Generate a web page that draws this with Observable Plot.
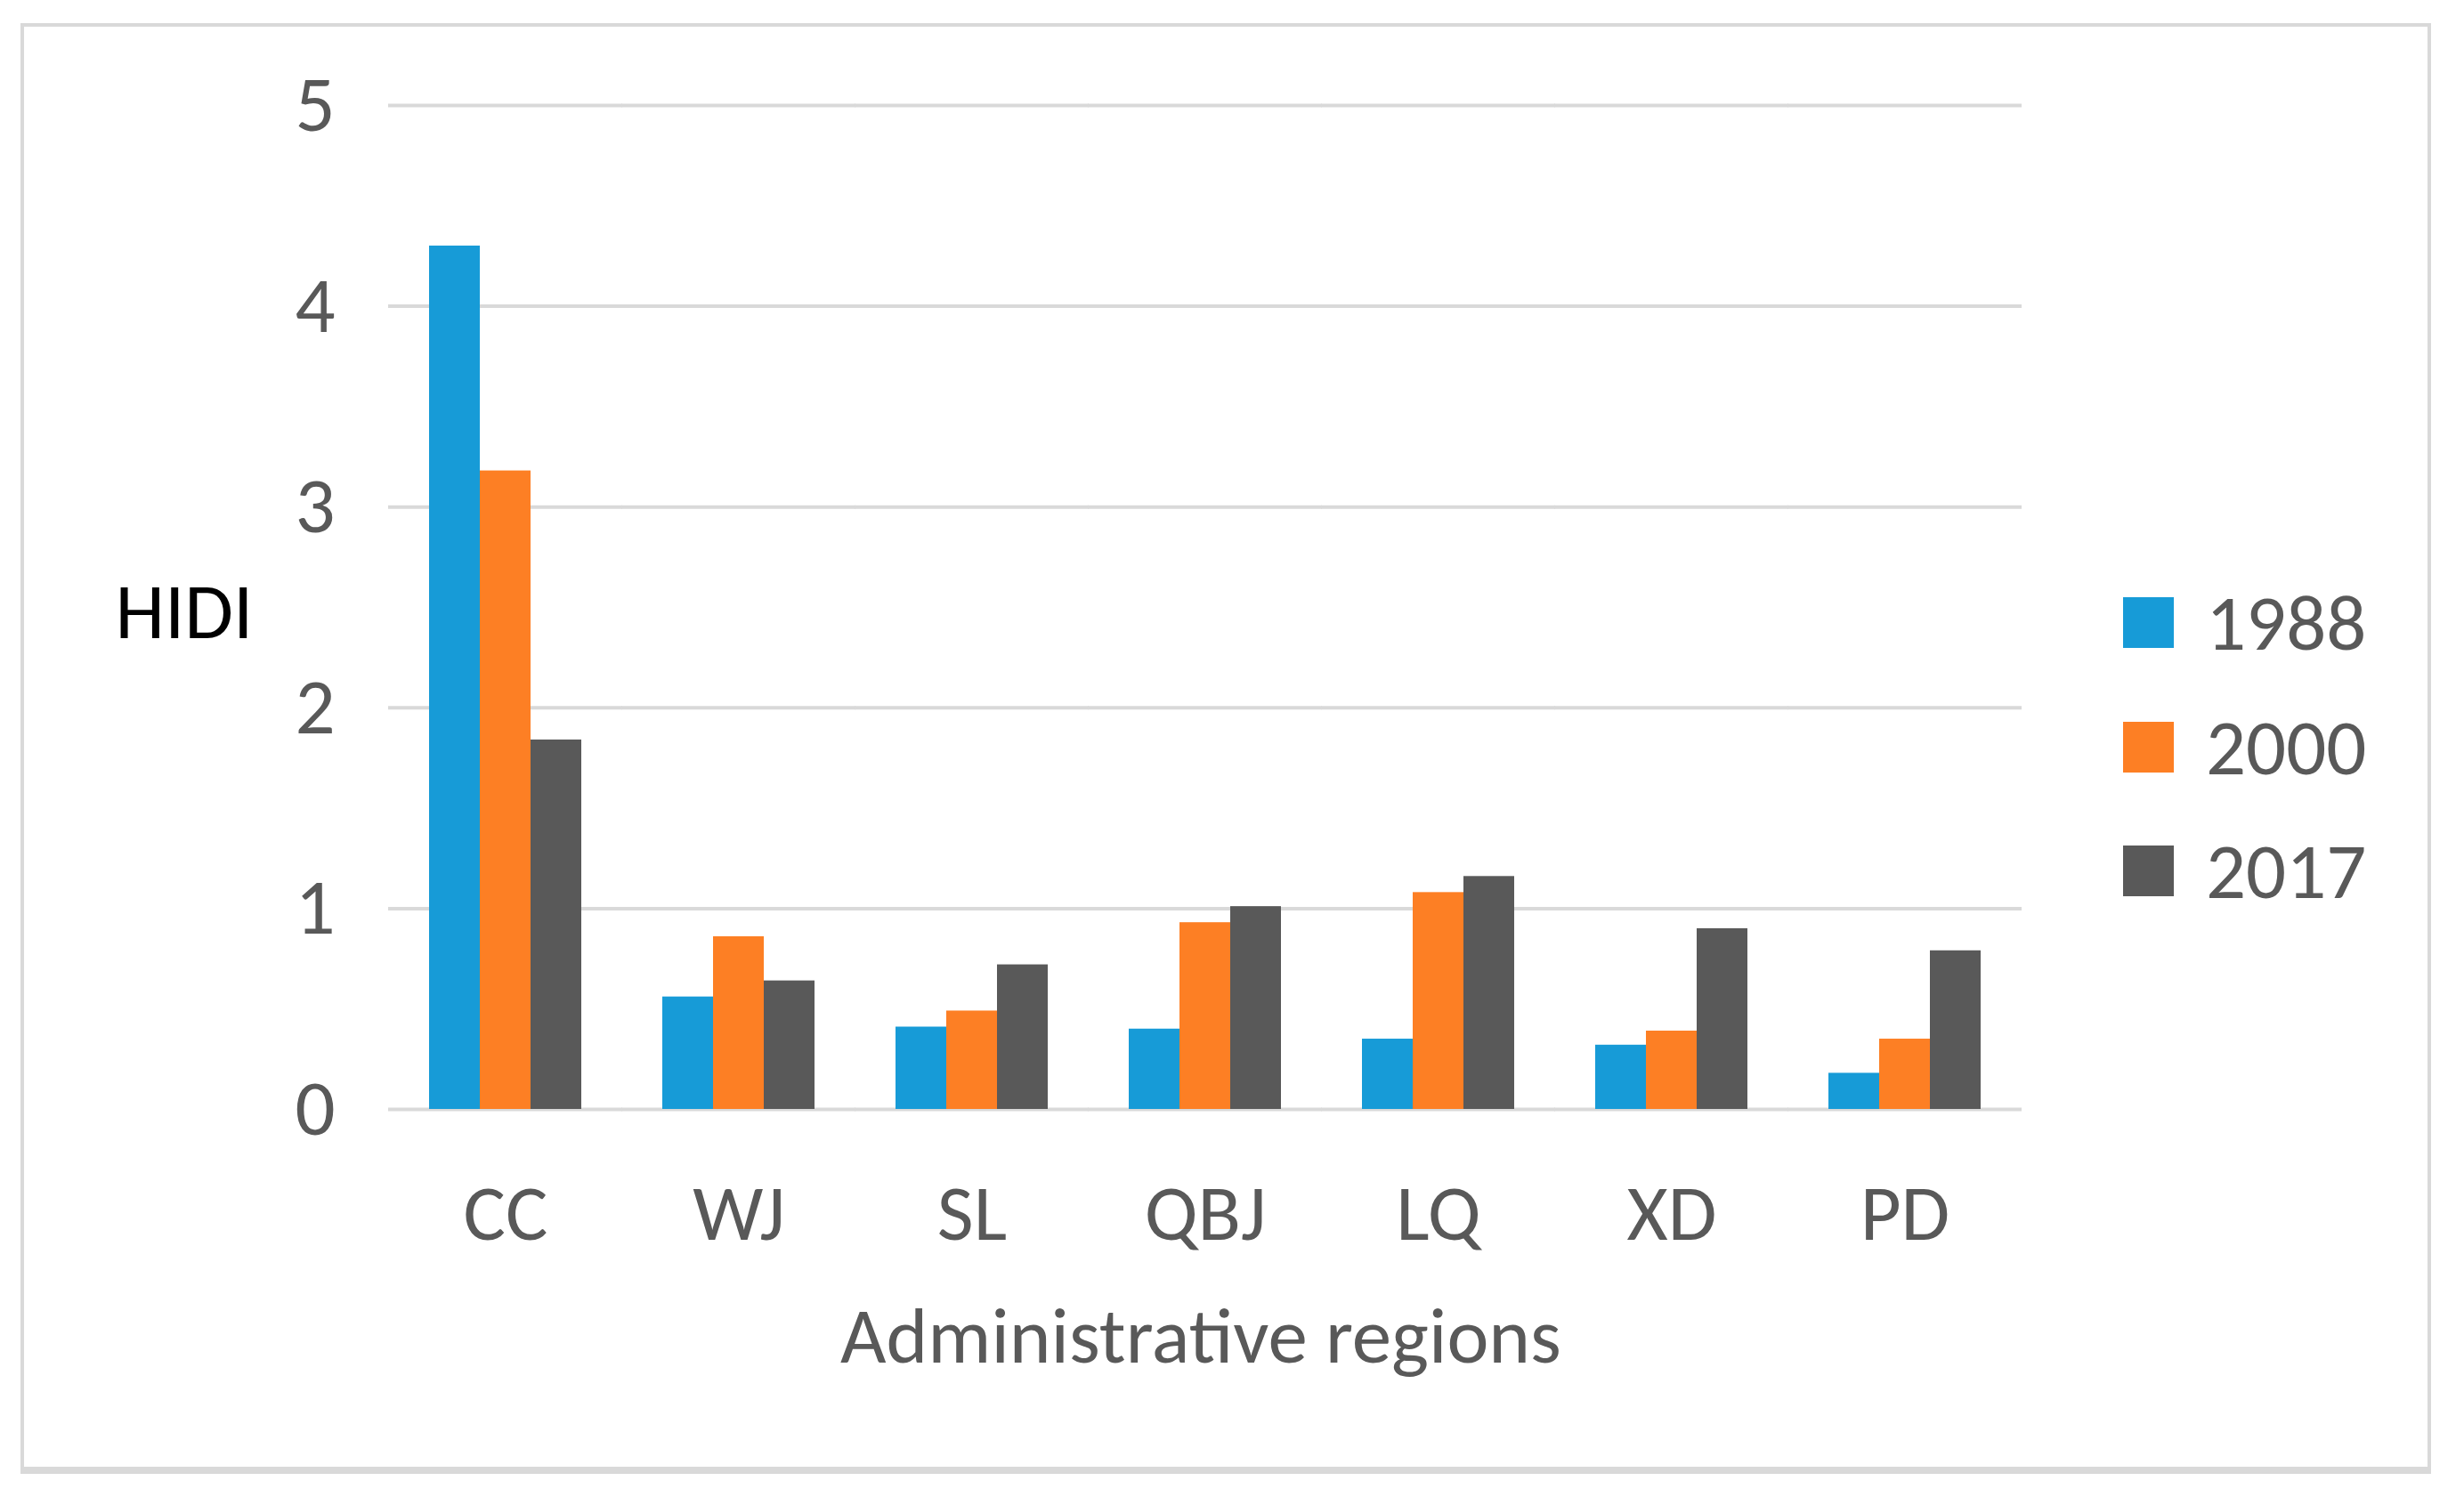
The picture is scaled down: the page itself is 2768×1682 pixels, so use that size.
<!DOCTYPE html>
<html>
<head>
<meta charset="utf-8">
<script src="https://cdn.jsdelivr.net/npm/d3@7"></script>
<script src="https://cdn.jsdelivr.net/npm/@observablehq/plot@0.6"></script>
<style>
  html, body { margin: 0; padding: 0; background: #ffffff; }
  #wrap { position: relative; width: 2768px; height: 1682px; overflow: hidden; font-family: Carlito, "Open Sans", sans-serif; }
  #frame { position: absolute; left: 23px; top: 26px; width: 2708px; height: 1630px; box-sizing: border-box; border: 4px solid #d9d9d9; border-bottom-width: 8px; }
  #chart { position: absolute; left: 0; top: 0; }
  .txt { position: absolute; font-size: 89px; color: #595959; white-space: nowrap; line-height: 1; }
  .legrow { position: absolute; left: 2385px; height: 90px; display: flex; align-items: center; }
  .sw { width: 57px; height: 57px; margin-right: 36px; }
</style>
</head>
<body>
<div id="wrap">
  <div id="frame"></div>
  <div id="chart"></div>
</div>
<script>
const regions = ["CC", "WJ", "SL", "QBJ", "LQ", "XD", "PD"];
const years = ["1988", "2000", "2017"];
const values1988 = [4.30, 0.56, 0.41, 0.40, 0.35, 0.32, 0.18];
const values2000 = [3.18, 0.86, 0.49, 0.93, 1.08, 0.39, 0.35];
const values2017 = [1.84, 0.64, 0.72, 1.01, 1.16, 0.90, 0.79];
const colors = ["#179bd7", "#fd7f24", "#595959"];
const yTicks = [0, 1, 2, 3, 4, 5];
const yLabel = "HIDI";
const xLabel = "Administrative regions";

const series = [values1988, values2000, values2017];
const data = [];
regions.forEach((r, i) => {
  years.forEach((y, j) => data.push({region: r, year: y, value: series[j][i]}));
});

const chart = Plot.plot({
  width: 2768,
  height: 1450,
  marginLeft: 434,
  marginRight: 495,
  marginTop: 118,
  marginBottom: 204,
  style: {fontSize: "89px", fontFamily: 'Carlito, "Open Sans", sans-serif', color: "#595959", background: "transparent", overflow: "visible"},
  fx: {domain: regions, paddingInner: 0.34, paddingOuter: 0.17, label: null},
  x: {domain: years, padding: 0, axis: null},
  y: {domain: [0, 5], label: null},
  color: {domain: years, range: colors},
  marks: [
    Plot.ruleY(yTicks, {stroke: "#d9d9d9", strokeWidth: 4, insetLeft: -45, insetRight: -45}),
    Plot.barY(data, {fx: "region", x: "year", y: "value", fill: "year", inset: 0}),
    Plot.axisY({ticks: yTicks, tickFormat: d => String(d), tickSize: 0, tickPadding: 105, label: null, fill: "#595959"}),
    Plot.axisFx({anchor: "bottom", tickSize: 0, tickPadding: 83, label: null, fill: "#595959"})
  ]
});
document.getElementById("chart").appendChild(chart);

const wrap = document.getElementById("wrap");
function addText(s, x, y, color) {
  const d = document.createElement("div");
  d.className = "txt";
  d.textContent = s;
  d.style.left = x + "px";
  d.style.top = y + "px";
  d.style.transform = "translate(-50%, -50%)";
  if (color) d.style.color = color;
  wrap.appendChild(d);
}
addText(yLabel, 207, 686, "#000000");
addText(xLabel, 1349, 1500);

const legendCenters = [699, 839, 978];
years.forEach((y, i) => {
  const row = document.createElement("div");
  row.className = "legrow";
  row.style.top = (legendCenters[i] - 45) + "px";
  const sw = document.createElement("div");
  sw.className = "sw";
  sw.style.background = colors[i];
  const t = document.createElement("span");
  t.className = "txt";
  t.style.position = "static";
  t.textContent = y;
  row.appendChild(sw);
  row.appendChild(t);
  wrap.appendChild(row);
});
</script>
</body>
</html>
